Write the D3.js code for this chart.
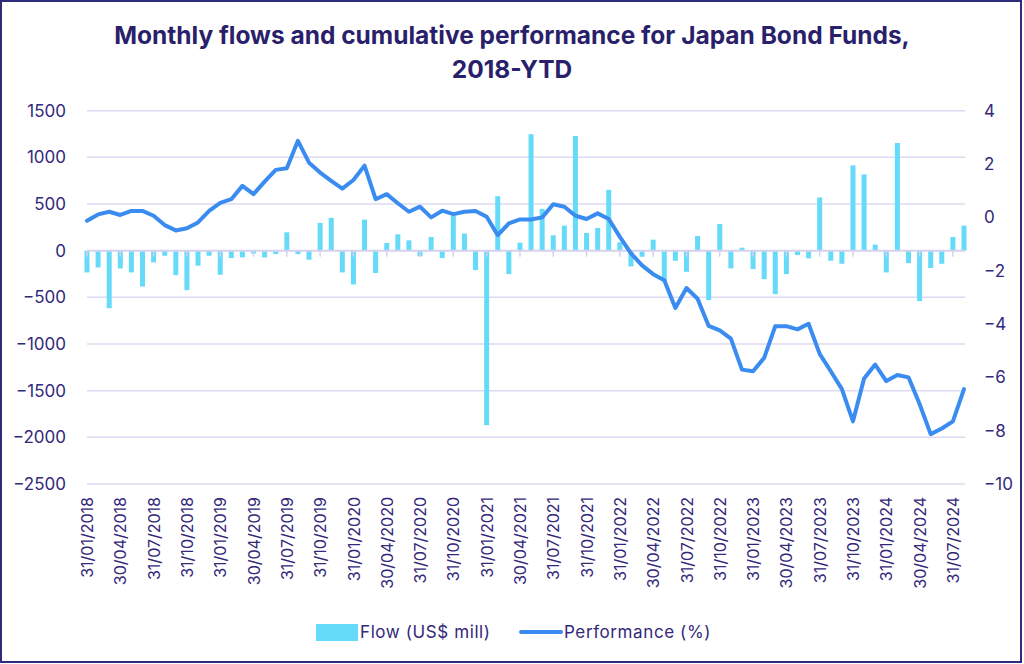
<!DOCTYPE html>
<html><head><meta charset="utf-8">
<script src="https://cdn.jsdelivr.net/npm/d3@7"></script>
<style>body{margin:0;background:#fff}</style>
</head><body><svg id="c" width="1024" height="664"></svg>
<script>
// ---- data ----
const flows = [
-233,-180,-616,-190,-233,-384,-125,-54,-262,-423,
-161,-54,-258,-79,-72,-30,-72,-36,197,-36,
-97,298,352,-233,-362,333,-240,82,175,111,
-60,147,-79,376,183,-208,-1870,584,-251,86,
1248,448,165,269,1229,190,244,652,90,-169,
-65,118,-330,-108,-226,158,-530,287,-190,32,
-197,-305,-466,-251,-47,-82,570,-108,-140,914,
817,65,-233,1154,-133,-541,-186,-140,147,269
];
const performance = [
-0.13,0.11,0.21,0.09,0.24,0.24,0.06,-0.29,-0.49,-0.41,
-0.19,0.24,0.54,0.68,1.18,0.87,1.34,1.78,1.84,2.87,
2.05,1.68,1.37,1.08,1.40,1.94,0.68,0.87,0.53,0.21,
0.40,0.00,0.25,0.12,0.21,0.24,0.02,-0.67,-0.23,-0.08,
-0.08,0.00,0.49,0.40,0.06,-0.06,0.15,-0.06,-0.73,-1.35,
-1.80,-2.13,-2.36,-3.40,-2.65,-3.05,-4.07,-4.24,-4.55,-5.71,
-5.77,-5.27,-4.08,-4.08,-4.20,-3.99,-5.12,-5.77,-6.44,-7.65,
-6.04,-5.52,-6.14,-5.91,-6.00,-7.00,-8.13,-7.92,-7.65,-6.44
];
const tickLabels = [
"31/01/2018","30/04/2018","31/07/2018","31/10/2018",
"31/01/2019","30/04/2019","31/07/2019","31/10/2019",
"31/01/2020","30/04/2020","31/07/2020","31/10/2020",
"31/01/2021","30/04/2021","31/07/2021","31/10/2021",
"31/01/2022","30/04/2022","31/07/2022","31/10/2022",
"31/01/2023","30/04/2023","31/07/2023","31/10/2023",
"31/01/2024","30/04/2024","31/07/2024"
];
const leftTicks = [1500,1000,500,0,-500,-1000,-1500,-2000,-2500];
const rightTicks = [4,2,0,-2,-4,-6,-8,-10];
const fmt = d3.timeFormat("%d/%m/%Y");
const categories = d3.timeMonth.range(new Date(2018,1,1), new Date(2024,8,2))
  .map(d => fmt(d3.timeDay.offset(d,-1)));

// ---- styles ----
const FONT = "Inter, 'Open Sans', sans-serif";
const TXT = "#33287a";
const GRID = "#dedaf2";
const BAR = "#66dbf9";
const LINE = "#3a8cf0";

const svg = d3.select("#c").style("font-family", FONT);
svg.append("rect").attr("x",1).attr("y",1).attr("width",1020).attr("height",661)
  .attr("fill","#fff").attr("stroke","#2e2a7c").attr("stroke-width",2);

const x = d3.scalePoint().domain(categories).range([87,964]);
const yL = d3.scaleLinear().domain([-2500,1500]).range([484,110.7]);
const yR = d3.scaleLinear().domain([-10,4]).range([484,110.7]);

// title
const title = svg.append("text").attr("x",512).attr("text-anchor","middle")
  .attr("fill","#2a1f6b").attr("font-weight",700).attr("font-size",24.5);
title.append("tspan").attr("x",512).attr("y",44).text("Monthly flows and cumulative performance for Japan Bond Funds,");
title.append("tspan").attr("x",512).attr("y",78).text("2018-YTD");

// grid
svg.append("g").selectAll("line").data(leftTicks.filter(d=>d!==0)).join("line")
  .attr("x1",87).attr("x2",965).attr("y1",d=>yL(d)).attr("y2",d=>yL(d))
  .attr("stroke",GRID).attr("stroke-width",1.5);

// bars
const bw = 5;
svg.append("g").selectAll("rect").data(flows).join("rect")
  .attr("x",(d,i)=>x(categories[i])-bw/2).attr("width",bw)
  .attr("y",d=>yL(Math.max(0,d))).attr("height",d=>Math.abs(yL(d)-yL(0)))
  .attr("fill",BAR);

// zero axis line + ticks
svg.append("line").attr("x1",87).attr("x2",965).attr("y1",yL(0)).attr("y2",yL(0))
  .attr("stroke","#d6d1ee").attr("stroke-width",2);
svg.append("g").selectAll("line").data(tickLabels).join("line")
  .attr("x1",d=>x(d)).attr("x2",d=>x(d)).attr("y1",yL(0)).attr("y2",yL(0)+6)
  .attr("stroke","#d6d1ee").attr("stroke-width",1.5);

// performance line
svg.append("path").datum(performance)
  .attr("d", d3.line().x((d,i)=>x(categories[i])).y(d=>yR(d)))
  .attr("fill","none").attr("stroke",LINE).attr("stroke-width",4)
  .attr("stroke-linejoin","round").attr("stroke-linecap","round");

// axes
const fnum = d3.format("d");
const gl = svg.append("g").attr("transform","translate(66,0)")
  .call(d3.axisLeft(yL).tickValues(leftTicks).tickSize(0).tickPadding(0).tickFormat(fnum));
const gr = svg.append("g").attr("transform","translate(984,0)")
  .call(d3.axisRight(yR).tickValues(rightTicks).tickSize(0).tickPadding(0).tickFormat(fnum));
const gx = svg.append("g").attr("transform","translate(0,489)")
  .call(d3.axisBottom(x).tickValues(tickLabels).tickSize(0));
[gl,gr,gx].forEach(g=>{
  g.select(".domain").remove();
  g.selectAll("text").attr("fill",TXT).style("font-family",FONT);
});
gl.selectAll("text").attr("font-size",17);
gr.selectAll("text").attr("font-size",17);
gx.selectAll("text").attr("font-size",16)
  .attr("transform","rotate(-90)").attr("text-anchor","end")
  .attr("x",-8).attr("y",0).attr("dy","0.35em");

// legend
svg.append("rect").attr("x",316).attr("y",624).attr("width",42).attr("height",17).attr("fill",BAR);
svg.append("text").attr("x",360).attr("y",638).attr("fill",TXT).attr("font-size",17)
  .attr("letter-spacing",0.6).text("Flow (US$ mill)");
svg.append("line").attr("x1",521).attr("x2",561).attr("y1",632).attr("y2",632)
  .attr("stroke",LINE).attr("stroke-width",4).attr("stroke-linecap","round");
svg.append("text").attr("x",564).attr("y",638).attr("fill",TXT).attr("font-size",17)
  .attr("letter-spacing",0.6).text("Performance (%)");
</script>
</body></html>
